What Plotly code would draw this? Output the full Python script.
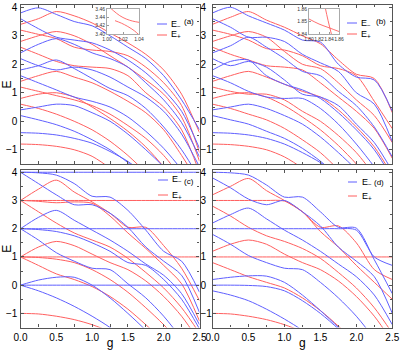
import plotly.graph_objects as go

# ---------------- data ----------------
g = [0.0, 0.25, 0.5, 0.75, 1.0, 1.25, 1.5, 1.75, 2.0, 2.25, 2.5]

# panel (a)
a_minus_1 = [3.8, 3.98, 3.75, 3.5, 3.35, 3.0, 2.6, 2.2, 1.6, 0.75, -0.3]
a_minus_2 = [3.6, 3.25, 2.95, 2.85, 2.75, 2.5, 2.15, 1.7, 1.1, 0.35, -0.95]
a_minus_3 = [2.4, 2.7, 2.9, 2.7, 2.4, 2.2, 1.9, 1.35, 0.75, -0.05, -1.25]
a_minus_4 = [2.2, 1.95, 1.8, 1.9, 1.8, 1.55, 1.2, 0.85, 0.35, -0.45, -1.6]
a_minus_5 = [1.8, 1.95, 2.15, 1.85, 1.5, 1.15, 0.9, 0.45, -0.2, -1.0, -2.0]
a_minus_6 = [1.6, 1.35, 1.1, 0.85, 0.7, 0.5, 0.15, -0.35, -0.95, -1.7, -2.6]
a_minus_7 = [0.4, 0.5, 0.6, 0.55, 0.3, 0.0, -0.45, -1.0, -1.6, -2.3, -3.1]
a_minus_8 = [0.2, 0.05, -0.12, -0.35, -0.65, -1.0, -1.45, -2.0, -2.6, -3.3, -4.0]
a_minus_9 = [-0.4, -0.42, -0.48, -0.6, -0.77, -1.06, -1.41, -1.9, -2.5, -3.2, -4.0]
a_plus_1 = [3.4, 3.6, 3.85, 3.7, 3.45, 3.1, 2.75, 2.35, 1.8, 0.95, -0.4]
a_plus_2 = [3.2, 3.05, 2.9, 2.6, 2.5, 2.45, 2.3, 1.9, 1.35, 0.55, -1.1]
a_plus_3 = [2.8, 3.0, 3.15, 3.0, 2.7, 2.3, 1.9, 1.45, 0.95, 0.15, -1.4]
a_plus_4 = [2.6, 2.35, 2.1, 1.95, 1.9, 1.85, 1.6, 1.0, 0.5, -0.3, -1.8]
a_plus_5 = [1.4, 1.6, 1.75, 1.55, 1.35, 1.05, 0.7, 0.3, -0.3, -1.2, -2.2]
a_plus_6 = [1.2, 1.05, 0.9, 0.75, 0.55, 0.25, -0.15, -0.6, -1.2, -2.0, -3.0]
a_plus_7 = [0.8, 0.95, 1.0, 0.85, 0.5, 0.1, -0.35, -0.9, -1.6, -2.4, -3.2]
a_plus_8 = [0.6, 0.45, 0.25, 0.0, -0.3, -0.7, -1.2, -1.8, -2.5, -3.2, -4.0]
a_plus_9 = [-0.8, -0.82, -0.88, -1.0, -1.23, -1.65, -2.2, -2.8, -3.5, -4.2, -5.0]

# panel (b)
b_minus_1 = [3.8, 4.0, 3.7, 3.45, 3.2, 2.85, 2.78, 2.0, 1.55, 1.45, 0.35]
b_minus_2 = [3.6, 3.3, 2.95, 2.95, 2.8, 2.35, 2.05, 1.75, 1.0, 0.6, -0.72]
b_minus_3 = [2.4, 2.65, 2.95, 2.6, 2.2, 1.75, 1.6, 1.05, 0.55, -0.2, -1.25]
b_minus_4 = [2.2, 1.95, 2.1, 1.9, 1.45, 0.95, 0.85, 0.55, -0.1, -0.75, -1.75]
b_minus_5 = [1.8, 2.1, 2.15, 1.6, 1.3, 1.1, 0.8, 0.3, -0.3, -1.0, -2.0]
b_minus_6 = [1.6, 1.35, 1.05, 0.85, 0.8, 0.8, 0.45, -0.1, -0.8, -1.6, -2.5]
b_minus_7 = [0.4, 0.5, 0.6, 0.45, 0.2, -0.1, -0.55, -1.1, -1.7, -2.4, -3.2]
b_minus_8 = [0.2, 0.05, -0.1, -0.35, -0.6, -0.95, -1.4, -1.95, -2.6, -3.3, -4.0]
b_minus_9 = [-0.4, -0.42, -0.48, -0.6, -0.8, -1.1, -1.45, -1.9, -2.5, -3.2, -4.0]
b_plus_1 = [3.4, 3.65, 3.85, 3.55, 3.3, 3.0, 2.72, 2.15, 1.65, 1.5, 0.3]
b_plus_2 = [3.2, 3.05, 2.85, 2.55, 2.5, 2.3, 1.95, 1.85, 1.6, 0.7, -0.26]
b_plus_3 = [2.8, 3.0, 3.15, 2.95, 2.45, 2.0, 1.85, 1.35, 0.75, 0.2, -0.75]
b_plus_4 = [2.6, 2.35, 2.15, 1.95, 1.9, 1.8, 1.35, 0.85, 0.35, -0.25, -1.3]
b_plus_5 = [1.4, 1.6, 1.75, 1.55, 1.3, 1.05, 0.85, 0.4, -0.2, -0.9, -1.9]
b_plus_6 = [1.2, 1.05, 0.95, 0.95, 0.75, 0.35, 0.0, -0.5, -1.1, -1.9, -2.8]
b_plus_7 = [0.8, 0.95, 1.0, 0.85, 0.55, 0.15, -0.3, -0.85, -1.5, -2.3, -3.2]
b_plus_8 = [0.6, 0.45, 0.25, 0.05, -0.25, -0.65, -1.1, -1.7, -2.4, -3.1, -3.9]
b_plus_9 = [-0.8, -0.82, -0.88, -1.0, -1.25, -1.65, -2.2, -2.8, -3.5, -4.2, -5.0]

# panel (c)
c_minus_1 = [4.0, 4.0, 4.0, 4.0, 4.0, 4.0, 4.0, 4.0, 4.0, 4.0, 4.0]
c_minus_2 = [4.0, 3.98, 3.9, 3.6, 3.15, 3.12, 2.65, 1.95, 1.2, 0.85, -0.25]
c_minus_3 = [4.0, 3.6, 3.2, 2.85, 2.85, 2.55, 2.05, 1.35, 0.85, 0.35, -0.97]
c_minus_4 = [2.0, 2.0, 2.0, 2.0, 2.0, 2.0, 2.0, 2.0, 2.0, 2.0, 2.0]
c_minus_5 = [2.0, 2.4, 2.65, 2.3, 1.95, 1.6, 1.2, 0.75, 0.35, -0.3, -1.4]
c_minus_6 = [2.0, 1.97, 1.9, 1.75, 1.5, 1.2, 0.8, 0.7, 0.2, -0.5, -1.55]
c_minus_7 = [2.0, 1.6, 1.15, 0.85, 0.6, 0.55, 0.05, -0.45, -1.1, -1.9, -2.8]
c_minus_8 = [0.0, 0.0, 0.0, 0.0, 0.0, 0.0, 0.0, 0.0, 0.0, 0.0, 0.0]
c_minus_9 = [0.0, 0.18, 0.28, 0.28, 0.0, -0.45, -1.0, -1.6, -2.3, -3.0, -3.8]
c_minus_10 = [0.0, -0.2, -0.45, -0.75, -1.1, -1.5, -2.0, -2.6, -3.3, -4.0, -4.8]
c_plus_1 = [3.0, 3.0, 3.0, 3.0, 3.0, 3.0, 3.0, 3.0, 3.0, 3.0, 3.0]
c_plus_2 = [3.0, 3.4, 3.72, 3.3, 2.95, 2.55, 2.05, 2.05, 1.4, 0.6, -0.55]
c_plus_3 = [3.0, 2.97, 2.92, 2.95, 2.9, 2.45, 1.85, 1.3, 0.7, 0.05, -1.27]
c_plus_4 = [3.0, 2.6, 2.2, 1.85, 1.6, 1.35, 0.95, 0.45, -0.1, -0.8, -1.7]
c_plus_5 = [1.0, 1.0, 1.0, 1.0, 1.0, 1.0, 1.0, 1.0, 1.0, 1.0, 1.0]
c_plus_6 = [1.0, 1.35, 1.55, 1.4, 1.1, 0.8, 0.55, 0.15, -0.4, -1.1, -2.0]
c_plus_7 = [1.0, 0.98, 0.92, 0.8, 0.55, 0.2, -0.25, -0.8, -1.4, -2.1, -2.9]
c_plus_8 = [1.0, 0.7, 0.4, 0.2, -0.05, -0.4, -0.85, -1.4, -2.0, -2.7, -3.5]
c_plus_9 = [-1.0, -1.02, -1.1, -1.22, -1.4, -1.65, -2.0, -2.5, -3.1, -3.8, -4.6]

# panel (d)
d_minus_1 = [4.0, 3.98, 3.9, 3.55, 3.12, 3.12, 2.6, 2.05, 2.02, 0.9, -0.3]
d_minus_2 = [3.8, 3.45, 3.05, 2.85, 3.0, 2.6, 2.1, 1.35, 0.85, 0.3, -1.0]
d_minus_3 = [2.2, 2.5, 2.73, 2.35, 1.95, 1.6, 1.2, 0.75, 0.3, -0.35, -1.4]
d_minus_4 = [2.0, 2.0, 2.0, 2.0, 2.0, 2.0, 2.0, 2.0, 1.95, 1.0, 0.7]
d_minus_5 = [1.8, 1.45, 1.05, 0.8, 0.6, 0.55, 0.1, -0.45, -1.1, -1.9, -2.8]
d_minus_6 = [0.2, 0.28, 0.33, 0.32, 0.1, -0.35, -0.9, -1.5, -2.2, -2.9, -3.7]
d_minus_7 = [0.0, 0.0, -0.01, -0.05, -0.2, -0.55, -1.0, -1.55, -2.2, -2.9, -3.7]
d_minus_8 = [-0.2, -0.35, -0.55, -0.85, -1.2, -1.6, -2.1, -2.7, -3.4, -4.1, -4.9]
d_plus_1 = [3.2, 3.5, 3.78, 3.35, 3.0, 2.6, 2.05, 2.1, 1.5, 0.55, 0.2]
d_plus_2 = [3.0, 3.0, 3.0, 3.0, 2.98, 2.6, 1.9, 1.35, 0.7, 0.1, -0.5]
d_plus_3 = [2.8, 2.45, 2.05, 1.75, 1.55, 1.3, 0.95, 0.45, -0.1, -0.8, -1.7]
d_plus_4 = [1.2, 1.45, 1.6, 1.45, 1.1, 0.8, 0.55, 0.15, -0.4, -1.1, -2.0]
d_plus_5 = [1.0, 1.0, 1.0, 1.0, 1.0, 1.0, 1.0, 1.0, 1.0, 1.0, 1.0]
d_plus_6 = [0.8, 0.55, 0.3, 0.1, -0.1, -0.45, -0.9, -1.45, -2.05, -2.8, -3.6]
d_plus_7 = [-1.0, -1.02, -1.1, -1.22, -1.4, -1.65, -2.0, -2.5, -3.1, -3.8, -4.6]

# insets
inset_a_g = [1.000, 1.008, 1.016, 1.024, 1.032, 1.040]
inset_a_upper = [3.470, 3.456, 3.444, 3.436, 3.431, 3.428]
inset_a_lower_g = [1.010, 1.018, 1.026, 1.034, 1.040]
inset_a_lower = [3.432, 3.426, 3.418, 3.408, 3.398]
inset_b_steep_g = [1.832, 1.838, 1.846]
inset_b_steep = [1.862, 1.851, 1.838]
inset_b_flat_g = [1.800, 1.820, 1.840, 1.860]
inset_b_flat = [1.852, 1.848, 1.845, 1.842]

legend_labels = ["E<sub>\u2212</sub>", "E<sub>+</sub>"]
panel_labels = ["(a)", "(b)", "(c)", "(d)"]
x_ticks = [0.0, 0.5, 1.0, 1.5, 2.0, 2.5]
y_ticks = [-1, 0, 1, 2, 3, 4]

# ---------------- figure ----------------
BLUE = "rgb(95,95,255)"
RED = "rgb(255,95,95)"
AXC = "#555"
FONT = "Liberation Sans, Arial, sans-serif"

a_minus = [a_minus_1, a_minus_2, a_minus_3, a_minus_4, a_minus_5, a_minus_6, a_minus_7, a_minus_8, a_minus_9]
a_plus = [a_plus_1, a_plus_2, a_plus_3, a_plus_4, a_plus_5, a_plus_6, a_plus_7, a_plus_8, a_plus_9]
b_minus = [b_minus_1, b_minus_2, b_minus_3, b_minus_4, b_minus_5, b_minus_6, b_minus_7, b_minus_8, b_minus_9]
b_plus = [b_plus_1, b_plus_2, b_plus_3, b_plus_4, b_plus_5, b_plus_6, b_plus_7, b_plus_8, b_plus_9]
c_minus = [c_minus_1, c_minus_2, c_minus_3, c_minus_4, c_minus_5, c_minus_6, c_minus_7, c_minus_8, c_minus_9, c_minus_10]
c_plus = [c_plus_1, c_plus_2, c_plus_3, c_plus_4, c_plus_5, c_plus_6, c_plus_7, c_plus_8, c_plus_9]
d_minus = [d_minus_1, d_minus_2, d_minus_3, d_minus_4, d_minus_5, d_minus_6, d_minus_7, d_minus_8]
d_plus = [d_plus_1, d_plus_2, d_plus_3, d_plus_4, d_plus_5, d_plus_6, d_plus_7]

fig = go.Figure()
panels = [("x", "y", a_minus, a_plus), ("x2", "y2", b_minus, b_plus),
          ("x3", "y3", c_minus, c_plus), ("x4", "y4", d_minus, d_plus)]
for xa, ya, minus, plus in panels:
    for ys in plus:
        fig.add_trace(go.Scatter(x=g, y=ys, xaxis=xa, yaxis=ya, mode="lines",
                                 line=dict(color=RED, width=1, shape="spline", smoothing=0.8),
                                 showlegend=False, hoverinfo="skip"))
    for ys in minus:
        fig.add_trace(go.Scatter(x=g, y=ys, xaxis=xa, yaxis=ya, mode="lines",
                                 line=dict(color=BLUE, width=1, shape="spline", smoothing=0.8),
                                 showlegend=False, hoverinfo="skip"))

# right-side label axes (dummy traces so the axes render)
fig.add_trace(go.Scatter(x=[None], y=[None], xaxis="x", yaxis="y5", showlegend=False))
fig.add_trace(go.Scatter(x=[None], y=[None], xaxis="x3", yaxis="y6", showlegend=False))

# insets
for xs, ys, xa, ya in [(inset_a_g, inset_a_upper, "x5", "y7"), (inset_a_lower_g, inset_a_lower, "x5", "y7"),
                       (inset_b_steep_g, inset_b_steep, "x6", "y8"), (inset_b_flat_g, inset_b_flat, "x6", "y8")]:
    fig.add_trace(go.Scatter(x=xs, y=ys, xaxis=xa, yaxis=ya, mode="lines",
                             line=dict(color=RED, width=0.9, shape="spline"),
                             showlegend=False, hoverinfo="skip"))

XA = [20.5 / 420, 199.5 / 420]
XB = [212.5 / 420, 392.3 / 420]
YT = [1 - 164 / 350, 1 - 5 / 350]
YB = [1 - 327.5 / 350, 1 - 170 / 350]
YR = [-1.5, 4.08]

tickfont = dict(family=FONT, size=10, color="#000")


def xax(domain, anchor, labels, title=None):
    d = dict(domain=domain, anchor=anchor, range=[0, 2.5], tickvals=x_ticks, tickformat=".1f",
             ticks="inside", ticklen=3, tickcolor=AXC,
             minor=dict(ticks="inside", ticklen=2, dtick=0.25, tickcolor=AXC),
             showline=True, linecolor=AXC, linewidth=1.2, mirror="allticks",
             showgrid=False, zeroline=False, showticklabels=labels, tickfont=tickfont,
             automargin=False)
    if title:
        d["title"] = dict(text=title, font=dict(family=FONT, size=12, color="#000"), standoff=0)
    return d


def yax(domain, anchor, labels, title=None):
    d = dict(domain=domain, anchor=anchor, range=YR, tickvals=y_ticks,
             ticks="inside", ticklen=3, tickcolor=AXC,
             minor=dict(ticks="inside", ticklen=2, dtick=0.5, tickcolor=AXC),
             showline=True, linecolor=AXC, linewidth=1.2, mirror="allticks",
             showgrid=False, zeroline=False, showticklabels=labels, tickfont=tickfont,
             automargin=False)
    if title:
        d["title"] = dict(text=title, font=dict(family=FONT, size=12, color="#000"), standoff=3)
    return d


def yright(over, anchor):
    return dict(overlaying=over, anchor=anchor, side="right", range=YR, tickvals=y_ticks,
                ticks="", showline=False, showgrid=False, zeroline=False,
                tickfont=tickfont, automargin=False)


def inset_axes(xdom, ydom, xr, yr, xt, yt, xanchor, yanchor):
    small = dict(family=FONT, size=5, color="#333")
    xa = dict(domain=xdom, anchor=yanchor, range=xr, tickvals=xt, ticks="inside", ticklen=2,
              tickcolor="#999", showline=True, linecolor="#aaa", linewidth=0.8, mirror=True,
              showgrid=False, zeroline=False, tickfont=small, tickformat=".2f", tickangle=0,
              automargin=False)
    ya = dict(domain=ydom, anchor=xanchor, range=yr, tickvals=yt, ticks="inside", ticklen=2,
              tickcolor="#999", showline=True, linecolor="#aaa", linewidth=0.8, mirror=True,
              showgrid=False, zeroline=False, tickfont=small, tickformat=".2f", tickangle=0,
              automargin=False)
    return xa, ya


ix5, iy7 = inset_axes([107 / 420, 139 / 420], [1 - 34 / 350, 1 - 9 / 350], [1.0, 1.04], [3.40, 3.46],
                      [1.00, 1.02, 1.04], [3.40, 3.42, 3.44, 3.46], "x5", "y7")
ix6, iy8 = inset_axes([309 / 420, 339 / 420], [1 - 34 / 350, 1 - 9 / 350], [1.80, 1.86], [1.84, 1.86],
                      [1.80, 1.82, 1.84, 1.86], [1.84, 1.85, 1.86], "x6", "y8")

fig.update_layout(
    width=420, height=350, margin=dict(l=0, r=0, t=0, b=0),
    paper_bgcolor="white", plot_bgcolor="white", showlegend=False,
    xaxis=xax(XA, "y", False), yaxis=yax(YT, "x", True, "E"),
    xaxis2=xax(XB, "y2", False), yaxis2=yax(YT, "x2", False),
    xaxis3=xax(XA, "y3", True, "g"), yaxis3=yax(YB, "x3", True, "E"),
    xaxis4=xax(XB, "y4", True, "g"), yaxis4=yax(YB, "x4", False),
    yaxis5=yright("y", "x"), yaxis6=yright("y3", "x3"),
    xaxis5=ix5, yaxis7=iy7, xaxis6=ix6, yaxis8=iy8,
)

# legends drawn as small line samples + text
leg = [  # (line x0, x1, y_minus, y_plus, text x, label x, label y)
    (157, 167, 24, 35, 169, 189, 22),
    (347, 357, 23, 34, 359, 381, 22),
    (158, 168, 180, 195, 170, 189, 181),
    (348, 357, 182, 196, 360, 379, 182),
]
for i, (x0, x1, ym, yp, tx, lx, ly) in enumerate(leg):
    for yy, col, lab in [(ym, BLUE, legend_labels[0]), (yp, RED, legend_labels[1])]:
        fig.add_shape(type="line", xref="paper", yref="paper", x0=x0 / 420, x1=x1 / 420,
                      y0=1 - yy / 350, y1=1 - yy / 350, line=dict(color=col, width=1))
        fig.add_annotation(x=tx / 420, y=1 - yy / 350, xref="paper", yref="paper", text=lab,
                           showarrow=False, xanchor="left", yanchor="middle",
                           font=dict(family=FONT, size=9, color="#000"))
    fig.add_annotation(x=lx / 420, y=1 - ly / 350, xref="paper", yref="paper", text=panel_labels[i],
                       showarrow=False, xanchor="center", yanchor="middle",
                       font=dict(family=FONT, size=8, color="#000"))

fig.write_html("out.html", config={"displayModeBar": False},
               post_script="document.body.style.margin='0px';")
